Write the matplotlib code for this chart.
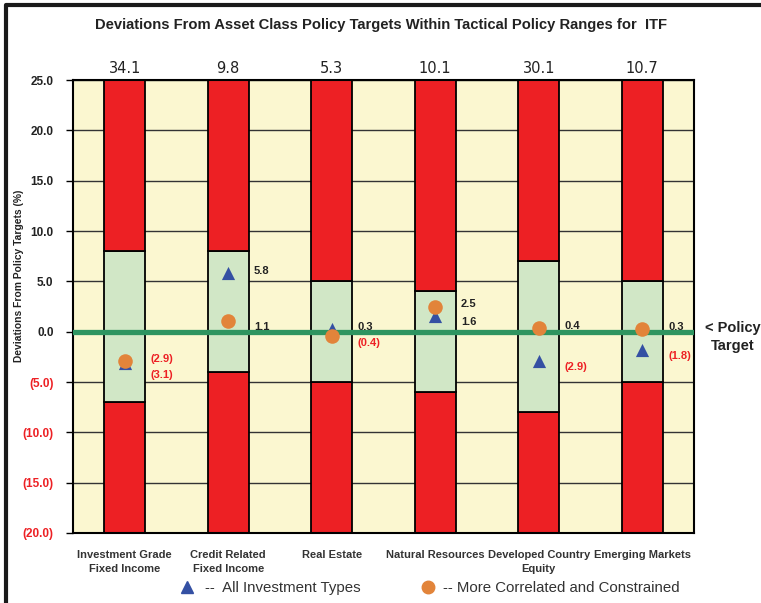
import matplotlib
matplotlib.use('Agg')
import matplotlib.pyplot as plt
from matplotlib.lines import Line2D

plt.rcParams['font.family'] = ['Liberation Sans', 'DejaVu Sans']

# data
categories = ['Investment Grade\nFixed Income', 'Credit Related\nFixed Income', 'Real Estate',
              'Natural Resources', 'Developed Country\nEquity', 'Emerging Markets']
top_values = ['34.1', '9.8', '5.3', '10.1', '30.1', '10.7']
range_low = [-7, -4, -5, -6, -8, -5]
range_high = [8, 8, 5, 4, 7, 5]
all_types = [-3.1, 5.8, 0.3, 1.6, -2.9, -1.8]
correlated = [-2.9, 1.1, -0.4, 2.5, 0.4, 0.3]
y_min, y_max = -20, 25
y_ticks = [25, 20, 15, 10, 5, 0, -5, -10, -15, -20]

red = '#ED2024'
pale_green = '#D1E7C6'
bg = '#FBF7D0'
line_green = '#2E9460'
blue = '#3450A3'
orange = '#E2843A'

fig = plt.figure(figsize=(7.61, 6.03), dpi=100)
ax = fig.add_axes([0.0959, 0.1161, 0.8160, 0.7512])
ax.set_facecolor(bg)

x = list(range(len(categories)))
w = 0.4
# bottom red, green range, top red
ax.bar(x, [lo - y_min for lo in range_low], bottom=y_min, width=w, color=red, edgecolor='black', linewidth=1.3, zorder=2)
ax.bar(x, [hi - lo for lo, hi in zip(range_low, range_high)], bottom=range_low, width=w, color=pale_green,
       edgecolor='black', linewidth=1.3, zorder=2)
ax.bar(x, [y_max - hi for hi in range_high], bottom=range_high, width=w, color=red, edgecolor='black', linewidth=1.3, zorder=2)

ax.axhline(0, color=line_green, linewidth=3.8, zorder=3)

ax.scatter(x, all_types, marker='^', s=90, color=blue, zorder=4, linewidths=0)
ax.scatter(x, correlated, marker='o', s=110, color=orange, zorder=5, linewidths=0)

# value labels right of each bar
for i in x:
    a, c = all_types[i], correlated[i]
    hi, lo = max(a, c), min(a, c)
    hi_y = hi + 0.2
    lo_y = min(lo - 0.6, hi_y - 1.6)
    for v, yy in ((hi, hi_y), (lo, lo_y)):
        txt = '%.1f' % v if v >= 0 else '(%.1f)' % abs(v)
        col = '#222222' if v >= 0 else red
        ax.text(i + w / 2 + 0.05, yy, txt, fontsize=8, fontweight='bold', color=col,
                ha='left', va='center', zorder=6)

# labels above bars
for i, t in zip(x, top_values):
    ax.annotate(t, (i, y_max), xytext=(0, 3), textcoords='offset points',
                ha='center', va='bottom', fontsize=10.5, family='DejaVu Sans', color='#222222')

ax.set_xlim(-0.5, len(categories) - 0.5)
ax.set_ylim(y_min, y_max)
ax.set_yticks(y_ticks)
ax.set_yticklabels(['%.1f' % t if t >= 0 else '(%.1f)' % abs(t) for t in y_ticks],
                   fontsize=8.5, fontweight='bold')
for lab, t in zip(ax.get_yticklabels(), y_ticks):
    lab.set_color('#222222' if t >= 0 else red)
ax.tick_params(axis='y', length=5, width=1, pad=9)
ax.yaxis.grid(True, color='#333333', linewidth=1, zorder=0)
ax.set_axisbelow(True)

ax.set_xticks(x)
ax.set_xticklabels(categories, fontsize=8, fontweight='bold', color='#333333', linespacing=1.5)
ax.tick_params(axis='x', length=0, pad=12)

for s in ax.spines.values():
    s.set_linewidth(1.5)
    s.set_color('black')

fig.text(19 / 761, 1 - 276 / 603, 'Deviations From Policy Targets (%)', rotation=90,
         fontsize=7.4, fontweight='bold', ha='center', va='center', color='#222222')

fig.text(381 / 761, 1 - 25 / 603,
         'Deviations From Asset Class Policy Targets Within Tactical Policy Ranges for  ITF',
         fontsize=10.6, fontweight='bold', ha='center', va='center', color='#222222')

fig.text(733 / 761, 1 - 337 / 603, '< Policy\nTarget', fontsize=10.5, fontweight='bold',
         ha='center', va='center', color='#222222', linespacing=1.3)

# legend row
fig.lines.append(Line2D([187 / 761], [1 - 587 / 603], marker='^', markersize=9, color=blue,
                        linestyle='none', transform=fig.transFigure))
fig.text(205 / 761, 1 - 588 / 603, '--  All Investment Types', fontsize=10.8,
         ha='left', va='center', color='#333333')
fig.lines.append(Line2D([428 / 761], [1 - 587 / 603], marker='o', markersize=9, color=orange,
                        linestyle='none', transform=fig.transFigure))
fig.text(443 / 761, 1 - 588 / 603, '-- More Correlated and Constrained', fontsize=10.8,
         ha='left', va='center', color='#333333')

# black frame top and left
fig.lines.append(Line2D([6 / 761, 6 / 761, 1], [0, 1 - 5 / 603, 1 - 5 / 603], color='#1a1a1a', linewidth=3,
                        transform=fig.transFigure))

fig.savefig('out.png', dpi=100)
